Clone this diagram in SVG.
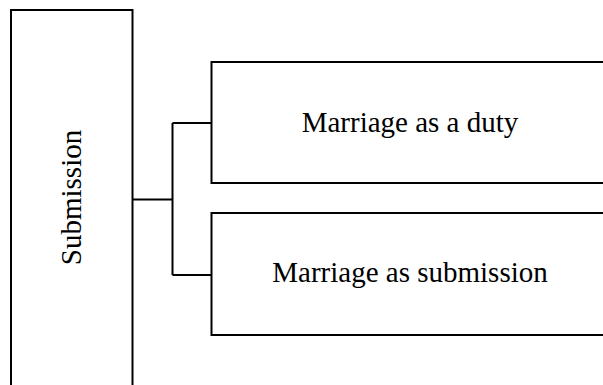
<svg xmlns="http://www.w3.org/2000/svg" width="603" height="385" viewBox="0 0 603 385">
<style>
.box{fill:#fff;stroke:#000;stroke-width:2}
.t{font-family:"Liberation Serif","Times New Roman",serif;font-size:29px;fill:#000}
.c{fill:none;stroke:#000;stroke-width:2}
</style>
<rect width="603" height="385" fill="#fff"/>
<g id="submission">
<rect class="box" x="11" y="10" width="121.5" height="400"/>
<text class="t" transform="translate(81,197.5) rotate(-90)" text-anchor="middle">Submission</text>
</g>
<g id="duty">
<rect class="box" x="211.5" y="62" width="420" height="121"/>
<text class="t" x="410" y="131.5" text-anchor="middle">Marriage as a duty</text>
</g>
<g id="marriage-submission">
<rect class="box" x="211.5" y="213" width="420" height="122"/>
<text class="t" x="410" y="281.5" text-anchor="middle">Marriage as submission</text>
</g>
<g id="connectors">
<path class="c" d="M132.5 199.5 H172.5 M172.5 123 V275 M172.5 123 H211.5 M172.5 275 H211.5"/>
</g>
</svg>
